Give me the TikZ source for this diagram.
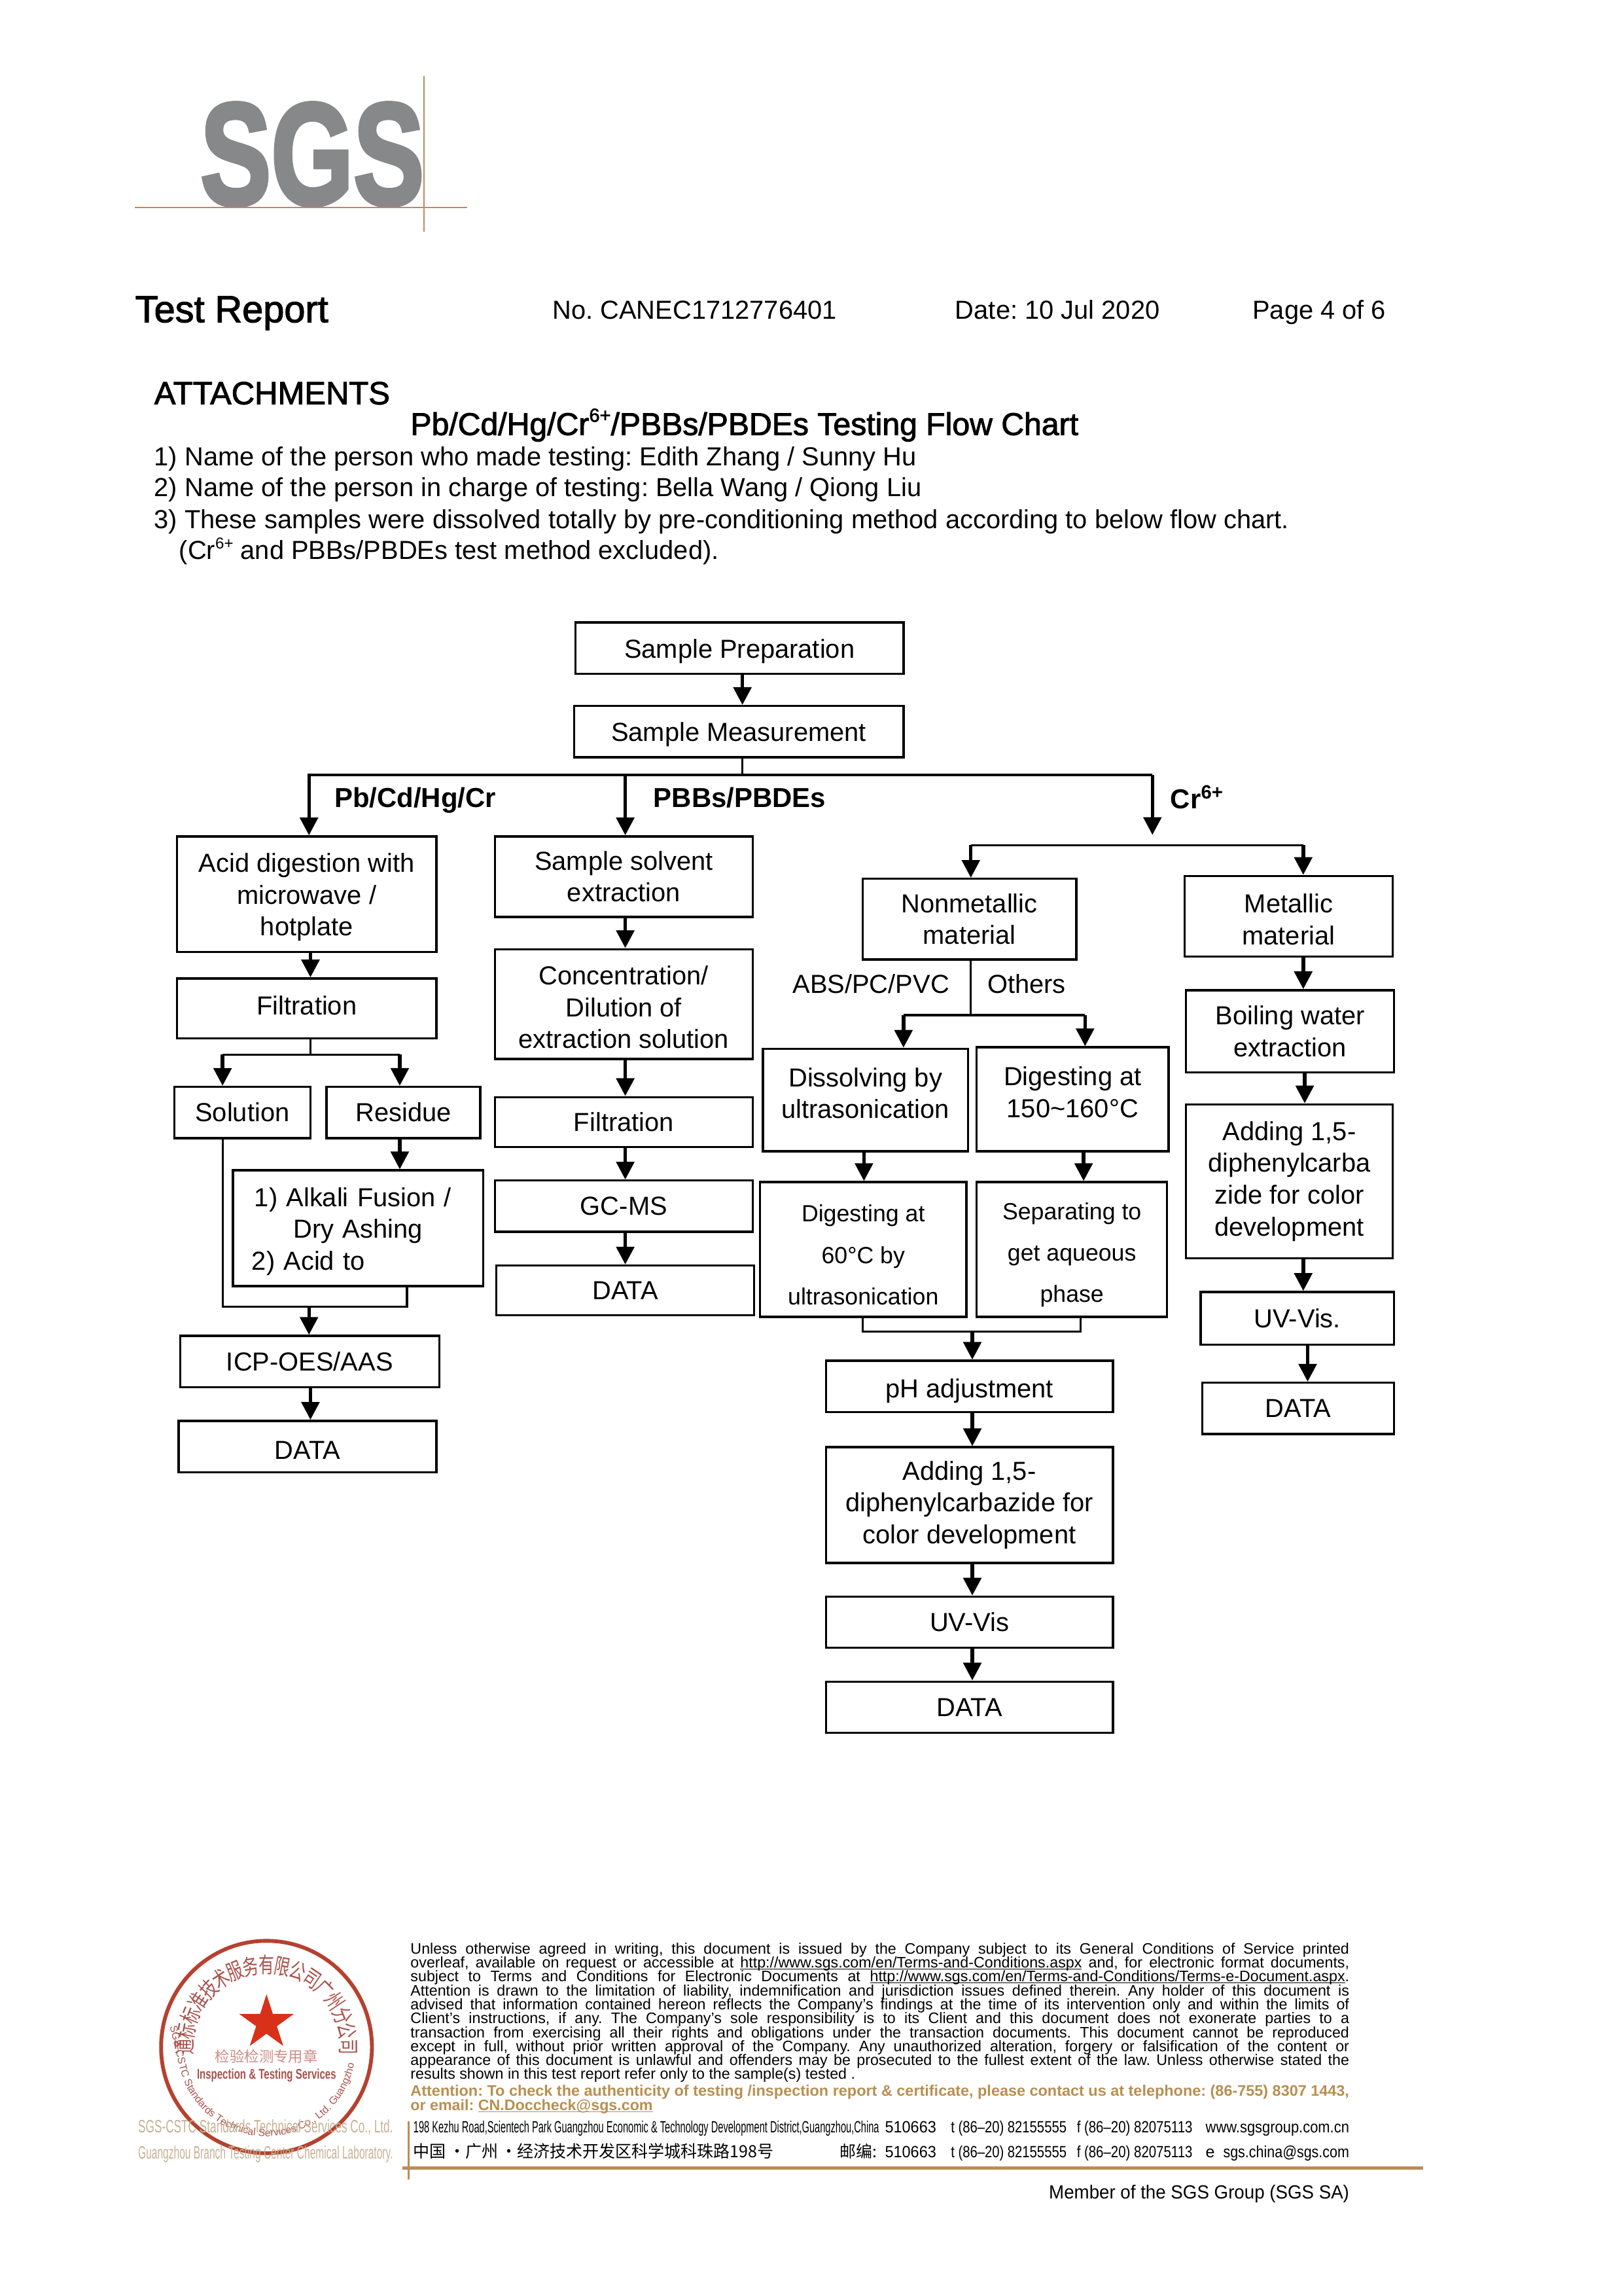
\documentclass[tikz,border=0pt]{standalone}
\usepackage{fontspec}
\setmainfont{Liberation Sans}
\newfontfamily\cjk{Noto Sans CJK SC}
\newfontfamily\medf[FakeBold=2]{Liberation Sans}
\newfontfamily\logof[BoldFeatures={FakeBold=3}]{Liberation Sans}
\usetikzlibrary{arrows.meta,shapes.geometric,decorations.text}
\frenchspacing
\definecolor{rulec}{HTML}{BC8C58}
\definecolor{logog}{HTML}{87888A}
\definecolor{sealr}{HTML}{B5412F}
\definecolor{sealt}{HTML}{A9524C}
\definecolor{sealp}{HTML}{C98C84}
\definecolor{starc}{HTML}{D9301A}
\definecolor{tanc}{HTML}{C6B193}
\definecolor{attn}{HTML}{B88F50}
\newdimen\ovp \ovp=0.5371bp
\newdimen\fw \fw=344.3bp
\newcommand{\sq}[2]{\resizebox{#1\ovp}{\height}{#2}}
\newsavebox{\flbox}
\newcommand{\fl}[1]{\sbox{\flbox}{#1}\ifdim\wd\flbox>\fw\hbox{\resizebox{\fw}{\height}{\usebox{\flbox}}}\else\hbox to \fw{#1}\fi}
\newsavebox{\ulbox}
\newcommand{\ul}[1]{\sbox{\ulbox}{#1}\rlap{\rule[-0.55pt]{\wd\ulbox}{0.3pt}}\usebox{\ulbox}}
\newcommand{\upl}{\\[-6.5pt]\mbox{}}
\newcommand{\ups}{\\[-9.5pt]\mbox{}}
\newcommand{\dna}{\rule{0pt}{9.2bp}}
\newcommand{\dnb}{\rule{0pt}{10.2bp}}
\newcommand{\sps}[2]{\raisebox{#1}{\fontsize{#2}{#2}\selectfont 6+}}
\tikzset{
  x=0.5371bp,y=-0.5371bp,
  boxn/.style={draw,line width=0.8bp,inner sep=0pt,align=center,font=\fontsize{9.6}{11.7}\selectfont},
  arr/.style={line width=1.3bp,-{Triangle[width=6.5bp,length=6.5bp]}},
  conn/.style={line width=0.8bp},
  plain/.style={inner sep=0pt,anchor=base west,font=\fontsize{9.6}{11.7}\selectfont},
  boldt/.style={inner sep=0pt,anchor=base west,font=\fontsize{10.1}{11.8}\selectfont\bfseries},
  smallt/.style={inner sep=0pt,anchor=base west,font=\fontsize{6}{6}\selectfont},
  rl/.style={color=rulec,line width=0.55bp},
  rlt/.style={color=rulec,line width=1.1bp}
}
\newcommand{\bx}[7][]{\node[boxn,minimum width={(#5-#3)*0.5371bp},minimum height={(#6-#4)*0.5371bp},#1] (#2) at ({(#3+#5)/2},{(#4+#6)/2}) {#7};}
\newcommand{\arw}[3]{\draw[arr] (#1.south -| #3,0) -- (#2.north -| #3,0);}
\begin{document}
\begin{tikzpicture}
\useasboundingbox (0,0) rectangle (1108.6,1567.5);
% logo
\node[inner sep=0pt,anchor=base west,text=logog] (logo) at (136.5,139.5) {\scalebox{0.65}[0.89]{\fontsize{60}{60}\logof\bfseries SGS}};
\coordinate (lgl) at (92,141.5); \coordinate (lgr) at (319,141.5);
\coordinate (lgt) at (289.5,52); \coordinate (lgb) at (289.5,158);
\draw[rl] (lgl) -- (lgr); \draw[rl] (lgt) -- (lgb);
% header
\node[plain,font=\fontsize{13.9}{14}\medf] (h1) at (92,220) {Test Report};
\node[plain] (h2) at (377,218) {No. CANEC1712776401};
\node[plain] (h3) at (652,218) {Date: 10 Jul 2020};
\node[plain] (h4) at (855,218) {Page 4 of 6};
\node[plain,font=\fontsize{11.8}{12}\medf] (h5) at (105,276) {ATTACHMENTS};
\node[plain,font=\fontsize{11.6}{12}\medf] (h6) at (280,297) {Pb/Cd/Hg/Cr\sps{0.42em}{7}/PBBs/PBDEs Testing Flow Chart};
\node[plain] (l1) at (105,318) {1) Name of the person who made testing: Edith Zhang / Sunny Hu};
\node[plain] (l2) at (105,339) {2) Name of the person in charge of testing: Bella Wang / Qiong Liu};
\node[plain] (l3) at (105,361) {3) These samples were dissolved totally by pre-conditioning method according to below flow chart.};
\node[plain] (l4) at (122,382) {(Cr\sps{0.42em}{5.8} and PBBs/PBDEs test method excluded).};
% top
\bx{prep}{393}{425}{617}{460}{\dna Sample Preparation}
\bx{meas}{392}{482}{617}{517}{\dna Sample Measurement}
\arw{prep}{meas}{507}
\coordinate (mL) at (210,529); \coordinate (mR) at (787,529);
\coordinate (mT1) at (211,529); \coordinate (mT2) at (427,529); \coordinate (mS) at (507,529);
\coordinate (crE) at (787,570);
\draw[conn] (meas.south -| mS) -- (mS);
\draw[conn] (mL) -- (mR);
\draw[arr] (mR) -- (crE);
\node[boldt] (lb1) at (228,551) {Pb/Cd/Hg/Cr};
\node[boldt] (lb2) at (446,551) {PBBs/PBDEs};
\node[boldt] (lb3) at (799,552) {Cr\textsuperscript{6+}};
% column 1
\bx{acid}{121}{571}{298}{650}{\dna Acid digestion with\\microwave /\\hotplate}
\bx{filt}{121}{668}{298}{709}{Filtration\ups}
\bx{sol}{119}{742}{212}{777}{Solution}
\bx{res}{223}{742}{328}{777}{Residue}
\bx[text width={(171-26)*0.5371bp},align=left]{alk}{159}{799}{330}{878}{\dna\hspace*{0.1em}1) Alkali Fusion /\\\hspace*{1.6em}Dry Ashing\\2) Acid to}
\bx{icp}{123}{912}{300}{947}{ICP-OES/AAS}
\bx{data1}{122}{970}{298}{1005}{\dna DATA}
\draw[arr] (mT1) -- (acid.north -| mT1);
\arw{acid}{filt}{212}
\coordinate (fb) at (212,720);
\draw[conn] (filt.south -| fb) -- (fb);
\coordinate (fbL) at (152,720); \coordinate (fbR) at (273,720);
\draw[conn] (fbL) -- (fbR);
\draw[arr] (fbL) -- (sol.north -| fbL);
\draw[arr] (fbR) -- (res.north -| fbR);
\arw{res}{alk}{273}
\coordinate (jn) at (211,892);
\draw[conn] (sol.south -| 152,0) |- (jn);
\draw[conn] (alk.south -| 278,0) |- (jn);
\draw[arr] (jn) -- (icp.north -| jn);
\arw{icp}{data1}{212}
% column 2
\bx{ext}{338}{571}{514}{626}{Sample solvent\\extraction}
\bx{conc}{338}{648}{514}{723}{\dna Concentration/\\Dilution of\\extraction solution}
\bx{filt2}{338}{749}{514}{783}{Filtration}
\bx{gc}{338}{806}{514}{841}{GC-MS}
\bx{data2}{339}{864}{515}{898}{DATA}
\draw[arr] (mT2) -- (ext.north -| mT2);
\arw{ext}{conc}{427}
\arw{conc}{filt2}{427}
\arw{filt2}{gc}{427}
\arw{gc}{data2}{427}
% Cr6+
\coordinate (cL) at (663,577); \coordinate (cR) at (890,577);
\draw[conn] (cL) -- (cR);
\bx{nonm}{589}{600}{735}{655}{Nonmetallic\\material}
\bx{metal}{809}{598}{951}{653}{\dna Metallic\\material}
\draw[arr] (cL) -- (nonm.north -| cL);
\draw[arr] (cR) -- (metal.north -| cR);
\node[plain] (abs) at (541,678) {ABS/PC/PVC};
\node[plain] (oth) at (674,678) {Others};
\coordinate (nb) at (663,693); \coordinate (nbL) at (617,693); \coordinate (nbR) at (741,693);
\draw[conn] (nonm.south -| nb) -- (nb);
\draw[conn] (nbL) -- (nbR);
\bx{diss}{521}{716}{661}{786}{Dissolving by\\ultrasonication\upl}
\bx{d150}{667}{715}{798}{786}{Digesting at\\150\textasciitilde160°C\upl}
\draw[arr] (nbL) -- (diss.north -| nbL);
\draw[arr] (nbR) -- (d150.north -| nbR);
\bx[font=\fontsize{8.6}{15.2}\selectfont]{d60}{519}{807}{660}{899}{\dnb Digesting at\\60°C by\\ultrasonication}
\bx[font=\fontsize{8.6}{15.2}\selectfont]{sep}{667}{807}{797}{899}{\dnb Separating to\\get aqueous\\phase}
\arw{diss}{d60}{590}
\arw{d150}{sep}{740}
\coordinate (jn2) at (664,909);
\draw[conn] (d60.south -| 589,0) |- (jn2);
\draw[conn] (sep.south -| 738,0) |- (jn2);
\bx{ph}{564}{929}{760}{964}{\dnb pH adjustment}
\bx{add}{564}{988}{760}{1067}{Adding 1,5-\\diphenylcarbazide for\\color development}
\bx{uv}{564}{1090}{760}{1125}{UV-Vis}
\bx{data3}{564}{1148}{760}{1183}{DATA}
\draw[arr] (jn2) -- (ph.north -| jn2);
\arw{ph}{add}{664}
\arw{add}{uv}{664}
\arw{uv}{data3}{664}
% metallic
\bx{boil}{810}{676}{952}{732}{Boiling water\\extraction}
\bx{add2}{810}{754}{951}{859}{Adding 1,5-\\diphenylcarba\\zide for color\\development}
\bx{uv2}{820}{882}{952}{918}{UV-Vis.}
\bx{data4}{821}{944}{952}{979}{DATA}
\arw{metal}{boil}{890}
\arw{boil}{add2}{891}
\arw{add2}{uv2}{890}
\arw{uv2}{data4}{893}
% seal
\node[draw=sealr,line width=1.4bp,ellipse,minimum width=144\ovp,minimum height=145\ovp,inner sep=0pt] (seal) at (182,1397.5) {};
\node[star,star points=5,star point ratio=2.618,fill=starc,minimum size=39\ovp,inner sep=0pt] (sstar) at (182,1381) {};
\foreach \ch [count=\i] in {通,标,标,准,技,术,服,务,有,限,公,司,广,州,分,公,司}{
  \pgfmathsetmacro\ang{180-(\i-1)*11.25}
  \node[inner sep=0pt,text=sealt,rotate=\ang-90,font=\fontsize{8}{9}\cjk] (sc\i) at ({182+56*cos(\ang)},{1397.5-56*sin(\ang)}) {\scalebox{0.72}[1]{\ch}};
}
\path[decorate,decoration={text along path,text align=center,
  text={|\fontsize{3.8}{4}\selectfont\color{sealt}|SGS-CSTC Standards Technical Services Co., Ltd. Guangzhou Branch}}]
  plot[domain=192:350,samples=60] ({182+61*cos(\x)},{1397.5-61*sin(\x)});
\node[inner sep=0pt,text=sealp,font=\fontsize{5.4}{6}\cjk] (seal1) at (182,1404) {检验检测专用章};
\node[inner sep=0pt,text=sealt,font=\fontsize{5.2}{6}\bfseries] (seal2) at (182,1417) {\sq{95}{Inspection \& Testing Services}};
% footer left
\node[smallt,text=tanc,font=\fontsize{6.6}{7}\selectfont] (fl1) at (94,1456) {\sq{174}{SGS-CSTC Standards Technical Services Co., Ltd.}};
\node[smallt,text=tanc,font=\fontsize{6.6}{7}\selectfont] (fl2) at (94,1474) {\sq{174}{Guangzhou Branch Testing Center Chemical Laboratory.}};
% fine print
\node[inner sep=0pt,anchor=north west,font=\fontsize{5.6}{5.6}\selectfont] (fine) at (280,1326) {\vbox{\baselineskip=5.13pt\lineskiplimit=-10pt
\fl{Unless otherwise agreed in writing, this document is issued by the Company subject to its General Conditions of Service printed}
\fl{overleaf, available on request or accessible at \ul{http://www.sgs.com/en/Terms-and-Conditions.aspx} and, for electronic format documents,}
\fl{subject to Terms and Conditions for Electronic Documents at \ul{http://www.sgs.com/en/Terms-and-Conditions/Terms-e-Document.aspx}.}
\fl{Attention is drawn to the limitation of liability, indemnification and jurisdiction issues defined therein. Any holder of this document is}
\fl{advised that information contained hereon reflects the Company's findings at the time of its intervention only and within the limits of}
\fl{Client's instructions, if any. The Company's sole responsibility is to its Client and this document does not exonerate parties to a}
\fl{transaction from exercising all their rights and obligations under the transaction documents. This document cannot be reproduced}
\fl{except in full, without prior written approval of the Company. Any unauthorized alteration, forgery or falsification of the content or}
\fl{appearance of this document is unlawful and offenders may be prosecuted to the fullest extent of the law. Unless otherwise stated the}
\hbox{results shown in this test report refer only to the sample(s) tested .}
}};
\node[smallt,text=attn,font=\fontsize{5.6}{6}\bfseries] (at1) at (280,1431) {\sq{641}{Attention: To check the authenticity of testing /inspection report \& certificate, please contact us at telephone: (86-755) 8307 1443,}};
\node[smallt,text=attn,font=\fontsize{5.6}{6}\bfseries] (at2) at (280,1441) {or email: \ul{CN.Doccheck@sgs.com}};
\node[smallt] (ad) at (282,1456) {\sq{318}{198 Kezhu Road,Scientech Park Guangzhou Economic \& Technology Development District,Guangzhou,China}};
\node[smallt,font=\fontsize{6}{7}\selectfont] (p1) at (604,1456) {\sq{35}{510663}};
\node[smallt] (t1) at (649,1456) {\sq{79}{t (86–20) 82155555}};
\node[smallt] (f1) at (735,1456) {\sq{79}{f (86–20) 82075113}};
\node[smallt] (w1) at (823,1456) {\sq{98}{www.sgsgroup.com.cn}};
\node[smallt,font=\fontsize{6.2}{7}\cjk] (cn) at (282,1473) {\sq{246}{中国\,·广州\,·经济技术开发区科学城科珠路198号}};
\node[smallt,font=\fontsize{6}{7}\cjk] (yb) at (573,1473) {邮编:};
\node[smallt,font=\fontsize{6}{7}\selectfont] (p2) at (604,1473) {\sq{35}{510663}};
\node[smallt] (t2) at (649,1473) {\sq{79}{t (86–20) 82155555}};
\node[smallt] (f2) at (735,1473) {\sq{79}{f (86–20) 82075113}};
\node[smallt] (e2) at (823,1473) {e};
\node[smallt] (m2) at (835,1473) {\sq{86}{sgs.china@sgs.com}};
\coordinate (frl) at (275,1480); \coordinate (frr) at (972,1480);
\coordinate (frt) at (279,1448); \coordinate (frb) at (279,1488);
\draw[rlt] (frl) -- (frr); \draw[rl] (frt) -- (frb);
\node[smallt,font=\fontsize{7}{8}\selectfont] (mem) at (716,1501) {\sq{205}{Member of the SGS Group (SGS SA)}};
\end{tikzpicture}
\end{document}
